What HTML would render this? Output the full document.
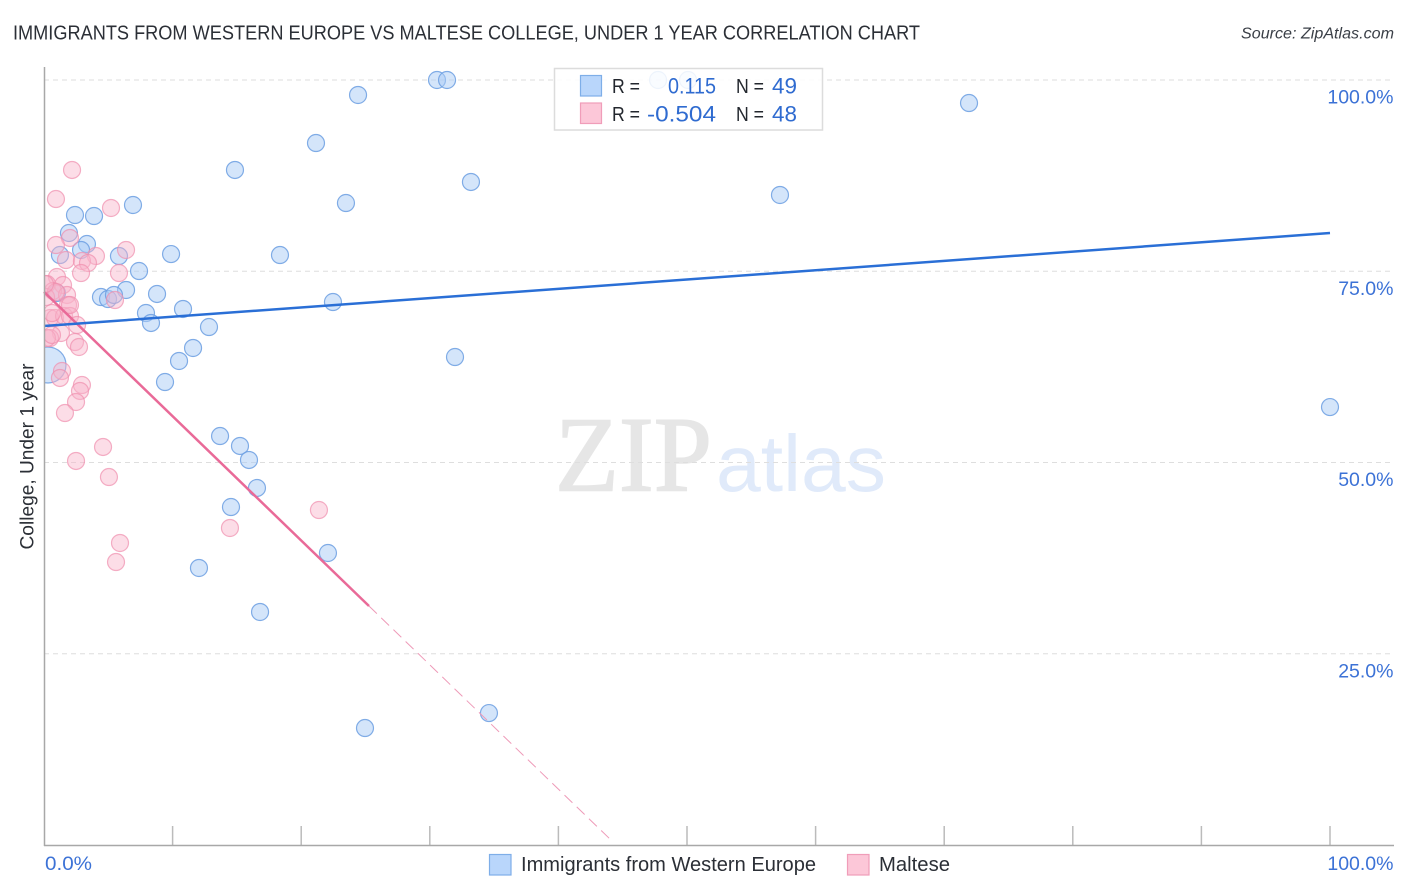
<!DOCTYPE html>
<html lang="en">
<head>
<meta charset="utf-8">
<title>Immigrants from Western Europe vs Maltese College, Under 1 Year Correlation Chart</title>
<style>
html,body{margin:0;padding:0;background:#fff;width:1406px;height:892px;overflow:hidden}
svg{display:block;font-family:"Liberation Sans",sans-serif}
</style>
</head>
<body>
<svg id="chart" width="1406" height="892" viewBox="0 0 1406 892" xmlns="http://www.w3.org/2000/svg">
  <defs><clipPath id="plot-clip"><rect x="45" y="60" width="1349" height="785"/></clipPath></defs>
  <text x="13" y="39.500" font-size="20" fill="#2b2f36" textLength="907" lengthAdjust="spacingAndGlyphs">IMMIGRANTS FROM WESTERN EUROPE VS MALTESE COLLEGE, UNDER 1 YEAR CORRELATION CHART</text>
  <text x="1241" y="38.500" font-size="15.500" font-style="italic" fill="#3a3f47" textLength="153" lengthAdjust="spacingAndGlyphs">Source: ZipAtlas.com</text>
  <g>
    <text x="555" y="490.500" style="font-family:'Liberation Serif',serif;font-size:107px" fill="#e6e6e6" stroke="#e6e6e6" stroke-width="1.500" textLength="157" lengthAdjust="spacingAndGlyphs">ZIP</text>
    <text x="716" y="491" style="font-family:'Liberation Sans',sans-serif;font-size:80px" fill="#e0eafa" textLength="170" lengthAdjust="spacingAndGlyphs">atlas</text>
  </g>
  <g id="grid"></g>
  <g id="points-blue" clip-path="url(#plot-clip)"></g>
  <g id="points-pink" clip-path="url(#plot-clip)"></g>
  <g id="trends"></g>
  <g id="axes"></g>
  <text transform="translate(33.500,456.500) rotate(-90)" font-size="19" fill="#2b2f36" text-anchor="middle" textLength="186" lengthAdjust="spacingAndGlyphs">College, Under 1 year</text>
  <g>
    <rect x="554.500" y="68.500" width="268" height="61.500" fill="#fff" fill-opacity="0.86" stroke="#dcdcdc" stroke-width="1.500"/>
    <rect x="580.500" y="75.500" width="21" height="20.500" fill="#b9d6fb" stroke="#7eaee8" stroke-width="1.200"/>
    <rect x="580.500" y="103" width="21" height="20.500" fill="#fcc7d8" stroke="#f09db9" stroke-width="1.200"/>
    <g font-size="20" fill="#23272e">
      <text x="612" y="93" textLength="28" lengthAdjust="spacingAndGlyphs">R =</text>
      <text x="612" y="121" textLength="28" lengthAdjust="spacingAndGlyphs">R =</text>
      <text x="736" y="93" textLength="28" lengthAdjust="spacingAndGlyphs">N =</text>
      <text x="736" y="121" textLength="28" lengthAdjust="spacingAndGlyphs">N =</text>
    </g>
    <g font-size="22" fill="#2f6bd0">
      <text x="668" y="93.500" textLength="48" lengthAdjust="spacingAndGlyphs">0.115</text>
      <text x="647" y="121.500" textLength="69" lengthAdjust="spacingAndGlyphs">-0.504</text>
      <text x="772" y="93.500" textLength="25" lengthAdjust="spacingAndGlyphs">49</text>
      <text x="772" y="121.500" textLength="25" lengthAdjust="spacingAndGlyphs">48</text>
    </g>
  </g>
  <g>
    <rect x="489.500" y="854.500" width="21.500" height="20.500" fill="#b9d6fb" stroke="#7eaee8" stroke-width="1.200"/>
    <text x="521" y="871" font-size="20" fill="#2b2f36" textLength="295" lengthAdjust="spacingAndGlyphs">Immigrants from Western Europe</text>
    <rect x="847.500" y="854.500" width="21.500" height="20.500" fill="#fcc7d8" stroke="#f09db9" stroke-width="1.200"/>
    <text x="879" y="871" font-size="20" fill="#2b2f36" textLength="71" lengthAdjust="spacingAndGlyphs">Maltese</text>
  </g>
</svg>
<script>
const yTickValues = [100, 75, 50, 25];
const yTickLabels = ["100.0%", "75.0%", "50.0%", "25.0%"];
const xTickValues = [10, 20, 30, 40, 50, 60, 70, 80, 90, 100];
const xEndLabels = ["0.0%", "100.0%"];

const blueX = [24.42,30.56,31.34,47.75,50.08,71.93,21.15,14.85,33.20,57.23,23.48,6.92,2.41,3.89,1.94,3.34,1.24,2.88,5.83,9.88,18.35,7.39,6.38,8.79,4.43,4.98,5.44,22.47,10.81,7.93,8.32,12.83,11.59,10.50,31.96,9.41,0.31,13.69,15.24,15.94,16.56,14.54,22.08,12.05,16.80,24.96,34.60,100,1.01];
const blueY = [98.04,100,100,100,100,96.99,91.76,88.24,86.67,84.97,83.92,83.66,82.35,82.22,80.00,78.56,77.12,77.78,76.99,77.25,77.12,75.03,72.55,72.03,71.63,71.37,71.90,70.98,70.07,69.54,68.24,67.71,64.97,63.27,63.79,60.52,62.75,53.46,52.16,50.33,46.67,44.18,38.17,36.21,30.46,15.29,17.25,57.25,72.16];
const blueLargeIndex = 36;

const pinkX = [2.18,0.93,5.21,2.02,0.93,6.38,4.04,1.71,2.95,3.42,2.88,5.83,1.01,0.23,1.48,0.70,1.79,0.16,5.52,1.87,0.47,0.86,1.56,2.02,2.57,0.62,1.32,0.47,2.41,2.72,1.40,1.24,2.95,2.80,2.49,1.63,4.59,2.49,5.05,21.38,14.46,5.91,5.60,0.93,2.02,0.23,0.08,0.62];
const pinkY = [88.24,84.44,83.27,79.35,78.43,77.78,76.99,76.47,76.34,76.08,74.77,74.77,74.25,73.33,73.20,72.42,71.90,71.63,71.24,70.59,68.89,68.89,69.15,69.15,67.97,69.54,66.93,66.27,65.75,65.10,61.96,61.05,60.13,59.35,57.91,56.47,52.03,50.20,48.10,43.79,41.44,39.48,36.99,72.29,70.59,66.27,73.33,66.67];

const blueTrendX = [0, 100];
const blueTrendY = [67.84, 80.0];
const pinkTrendX = [0, 25.27];
const pinkTrendY = [72.3, 31.24];
const pinkDashX = [25.27, 44.01];
const pinkDashY = [31.24, 0.78];

const NS = "http://www.w3.org/2000/svg";
const sx = v => 44 + v * 12.86;
const sy = v => 845 - v * 7.65;
function mk(tag, parentId, attrs) {
  const el = document.createElementNS(NS, tag);
  for (const k in attrs) el.setAttribute(k, attrs[k]);
  document.getElementById(parentId).appendChild(el);
  return el;
}

yTickValues.forEach((v, i) => {
  const g = mk("line", "grid", {x1: 44, x2: 1394, y1: sy(v), y2: sy(v), stroke: "#dedede", "stroke-width": 1, "stroke-dasharray": "5 4"});
  
  
  const t = mk("text", "axes", {x: 1393.5, y: sy(v) + 23.5, "text-anchor": "end", "font-size": 19.5, fill: "#3c72d6"});
  t.textContent = yTickLabels[i];
  
  
});

xTickValues.forEach(v => {
  const t = mk("line", "axes", {x1: sx(v), x2: sx(v), y1: 826, y2: 845, stroke: "#bbbbbb", "stroke-width": 1.5});
  
  
});

const yAxis = mk("line", "axes", {x1: 44.5, x2: 44.5, y1: 67, y2: 846, stroke: "#a8a8a8", "stroke-width": 1.5});


const xAxis = mk("line", "axes", {x1: 44, x2: 1394, y1: 845.5, y2: 845.5, stroke: "#a8a8a8", "stroke-width": 1.5});



const x0 = mk("text", "axes", {x: 45, y: 870, "font-size": 19.5, fill: "#3c72d6", textLength: 47, lengthAdjust: "spacingAndGlyphs"});
x0.textContent = xEndLabels[0];


const x1 = mk("text", "axes", {x: 1393.5, y: 870, "text-anchor": "end", "font-size": 19.5, fill: "#3c72d6"});
x1.textContent = xEndLabels[1];



blueX.forEach((v, i) => {
  const c = mk("circle", "points-blue", {cx: sx(v), cy: sy(blueY[i]), r: i === blueLargeIndex ? 18 : 8.5, fill: "#a9cbf6", "fill-opacity": 0.5, stroke: "#6c9fe2", "stroke-width": 1.2, "stroke-opacity": 0.85});
  
  
});
pinkX.forEach((v, i) => {
  const c = mk("circle", "points-pink", {cx: sx(v), cy: sy(pinkY[i]), r: 8.5, fill: "#f9b4ca", "fill-opacity": 0.45, stroke: "#ef8fae", "stroke-width": 1.2, "stroke-opacity": 0.7});
  
  
});

const pd = mk("line", "trends", {x1: sx(pinkDashX[0]), y1: sy(pinkDashY[0]), x2: sx(pinkDashX[1]), y2: sy(pinkDashY[1]), stroke: "#ee9ab8", "stroke-width": 1, "stroke-dasharray": "11 6"});


const pl = mk("line", "trends", {x1: sx(pinkTrendX[0]), y1: sy(pinkTrendY[0]), x2: sx(pinkTrendX[1]), y2: sy(pinkTrendY[1]), stroke: "#e96a98", "stroke-width": 2.5});


const bl = mk("line", "trends", {x1: sx(blueTrendX[0]), y1: sy(blueTrendY[0]), x2: sx(blueTrendX[1]), y2: sy(blueTrendY[1]), stroke: "#2a6fd6", "stroke-width": 2.5});


</script>
</body>
</html>
